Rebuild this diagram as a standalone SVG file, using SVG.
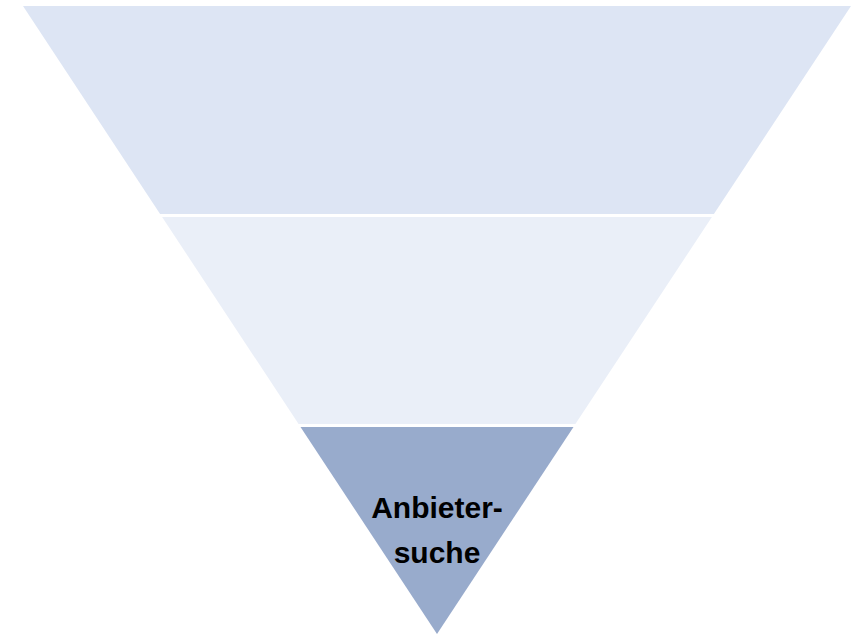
<svg xmlns="http://www.w3.org/2000/svg" width="863" height="634" viewBox="0 0 863 634">
  <style>
    .lbl { font-family: "Liberation Sans", Arial, sans-serif; font-weight: bold; font-size: 30px; fill: #000000; text-anchor: middle; }
  </style>
  <rect width="863" height="634" fill="#ffffff"/>
  <g id="band-top">
    <polygon points="23,6 851,6 713.9,214 160.1,214" fill="#DDE5F4"/>
  </g>
  <g id="band-middle">
    <polygon points="162.1,217 711.9,217 575.4,424 298.6,424" fill="#EAEFF8"/>
  </g>
  <g id="band-bottom">
    <polygon points="300.5,427 573.5,427 437,634" fill="#98ABCC"/>
    <text class="lbl" x="437" y="518">Anbieter-</text>
    <text class="lbl" x="437" y="563">suche</text>
  </g>
  <g id="connectors"></g>
</svg>
